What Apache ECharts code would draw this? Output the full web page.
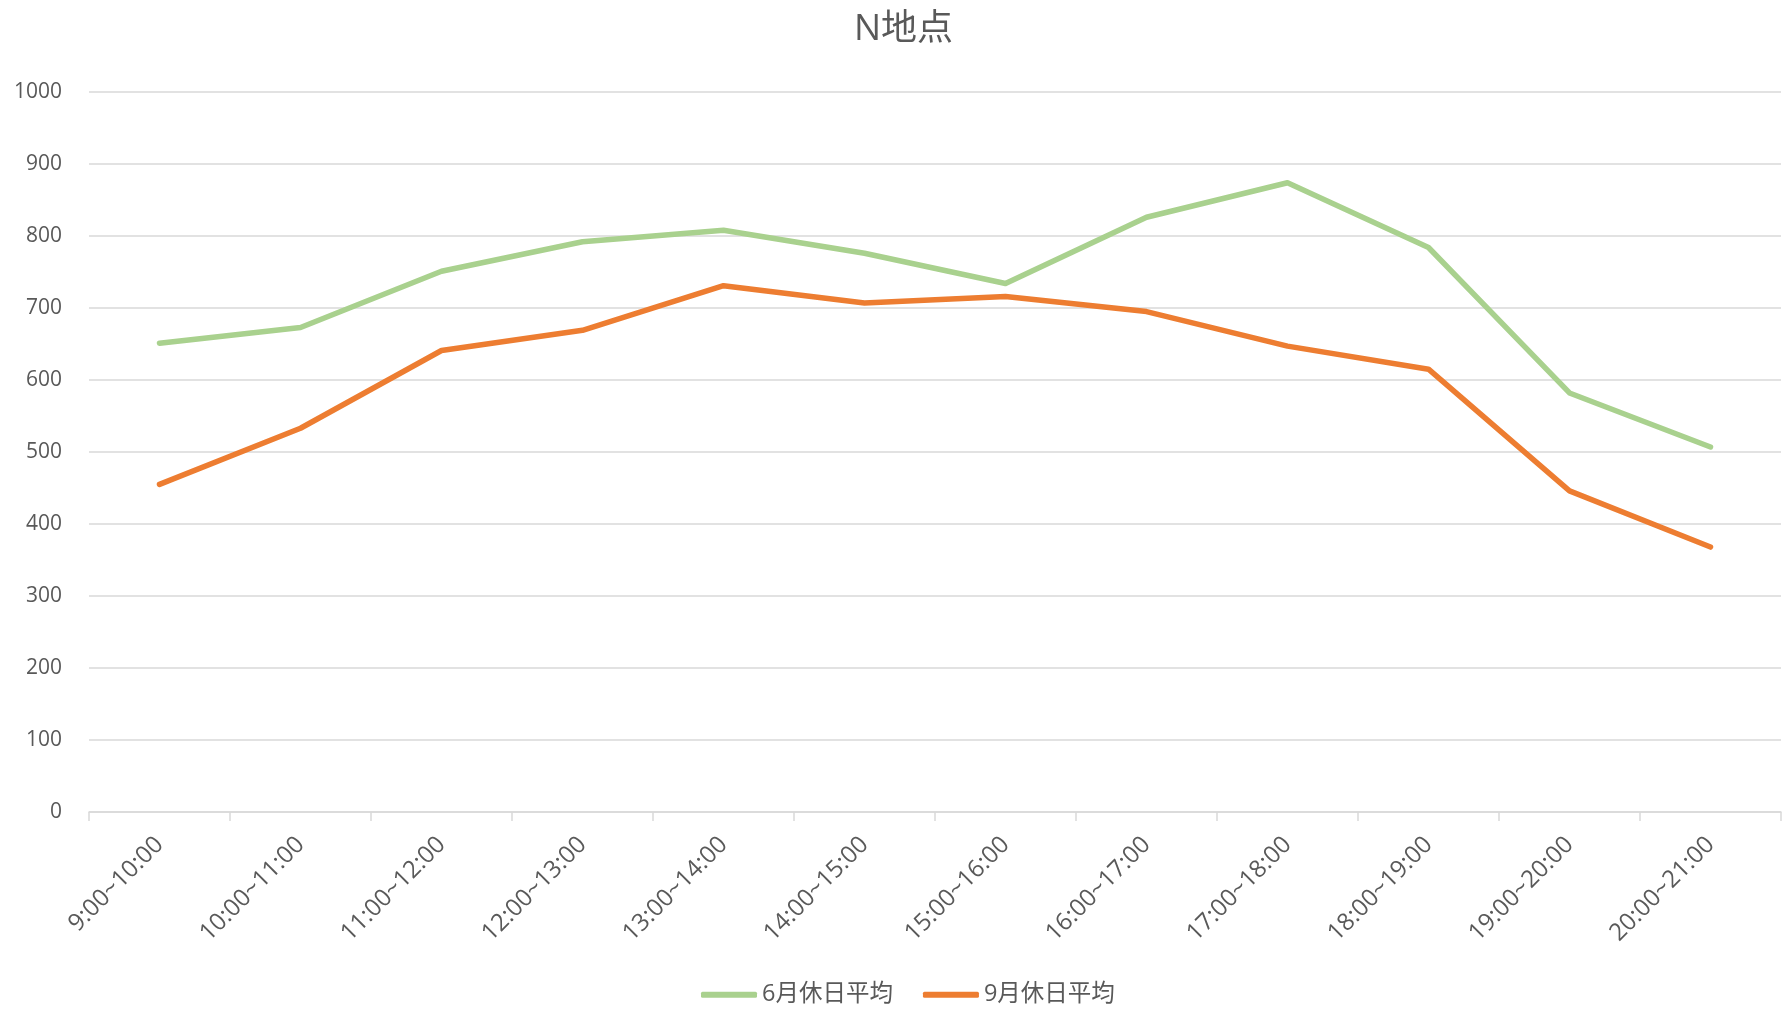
<!DOCTYPE html>
<html>
<head>
<meta charset="utf-8">
<script src="https://cdn.jsdelivr.net/npm/echarts@6/dist/echarts.min.js"></script>
<style>
  html, body { margin: 0; padding: 0; background: #ffffff; }
  #chart { width: 1787px; height: 1009px; }
</style>
</head>
<body>
<div id="chart"></div>
<script>
// Time slots (x axis)
const timeSlots = [
  '9:00~10:00', '10:00~11:00', '11:00~12:00', '12:00~13:00',
  '13:00~14:00', '14:00~15:00', '15:00~16:00', '16:00~17:00',
  '17:00~18:00', '18:00~19:00', '19:00~20:00', '20:00~21:00'
];
// Holiday averages per time slot
const juneHoliday = [651, 673, 751, 792, 808, 776, 734, 826, 874, 784, 582, 507];
const septHoliday = [455, 533, 641, 669, 731, 707, 716, 695, 647, 615, 446, 368];
const seriesNames = ['6月休日平均', '9月休日平均'];
const yMin = 0, yMax = 1000, yStep = 100;

const textColor = '#595959';
const gridColor = '#D9D9D9';
const fontFamily = '"Open Sans", "Noto Sans CJK JP", sans-serif';

const chart = echarts.init(document.getElementById('chart'));
chart.setOption({
  backgroundColor: '#ffffff',
  animation: false,
  textStyle: { fontFamily: fontFamily, color: textColor },
  title: {
    text: 'N地点',
    left: 849,
    top: 7,
    textStyle: { fontFamily: fontFamily, fontSize: 36, fontWeight: 'normal', color: textColor }
  },
  legend: {
    left: 696,
    top: 978,
    itemWidth: 56,
    itemHeight: 6,
    itemGap: 30,
    icon: 'roundRect',
    textStyle: { fontFamily: fontFamily, fontSize: 23.5, color: textColor },
    data: seriesNames
  },
  grid: { left: 89, right: 6, top: 92, bottom: 197, containLabel: false },
  xAxis: {
    type: 'category',
    data: timeSlots,
    boundaryGap: true,
    axisLine: { lineStyle: { color: gridColor, width: 1.5 } },
    axisTick: { show: true, length: 9, lineStyle: { color: gridColor, width: 1.5 } },
    axisLabel: {
      rotate: 45,
      margin: 29,
      fontSize: 24,
      color: textColor,
      fontFamily: fontFamily,
      interval: 0
    }
  },
  yAxis: {
    type: 'value',
    min: yMin,
    max: yMax,
    interval: yStep,
    axisLine: { show: false },
    axisTick: { show: false },
    axisLabel: {
      margin: 27,
      fontSize: 21,
      color: textColor,
      fontFamily: fontFamily,
      formatter: (v) => String(v)
    },
    splitLine: { lineStyle: { color: gridColor, width: 1.5 } }
  },
  series: [
    {
      name: seriesNames[0],
      type: 'line',
      data: juneHoliday,
      symbol: 'none',
      color: '#A9D18E',
      lineStyle: { width: 5.5, cap: 'round', join: 'round' }
    },
    {
      name: seriesNames[1],
      type: 'line',
      data: septHoliday,
      symbol: 'none',
      color: '#ED7D31',
      lineStyle: { width: 5.5, cap: 'round', join: 'round' }
    }
  ]
});
</script>
</body>
</html>
